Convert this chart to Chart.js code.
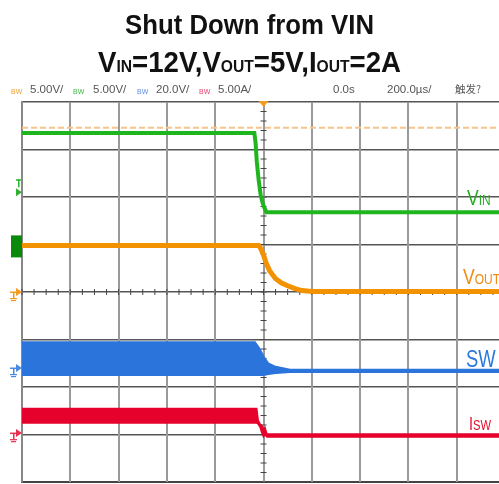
<!DOCTYPE html>
<html>
<head>
<meta charset="utf-8">
<script src="https://cdn.jsdelivr.net/npm/chart.js@4.4.1/dist/chart.umd.min.js"></script>
<style>
body{margin:0;background:#fff;width:499px;height:484px;overflow:hidden;position:relative;font-family:"Liberation Sans",Arial,sans-serif}
#c{position:absolute;left:0;top:0}
.t{position:absolute;line-height:1;white-space:nowrap}
.title{left:0;width:499px;text-align:center;font-weight:bold;color:#111;transform:scaleX(0.92)}
.st{font-family:"Liberation Sans Narrow","Liberation Sans",sans-serif;font-size:11.5px;color:#555}
.bw{font-family:"Liberation Sans",sans-serif;font-size:7px}
.lab{font-family:"Liberation Sans",sans-serif;transform:scaleX(0.8);transform-origin:0 0}
</style>
</head>
<body>
<canvas id="c" width="499" height="484"></canvas>

<div class="t title" style="top:11px;font-size:28px">Shut Down from VIN</div>
<div class="t title" style="top:47px;font-size:30px">V<span style="font-size:17px">IN</span>=12V,V<span style="font-size:17px">OUT</span>=5V,I<span style="font-size:17px">OUT</span>=2A</div>

<div class="t bw" style="left:11px;top:88px;color:#f0a030">BW</div>
<div class="t st" style="left:30px;top:84px">5.00V/</div>
<div class="t bw" style="left:73px;top:88px;color:#40b840">BW</div>
<div class="t st" style="left:93px;top:84px">5.00V/</div>
<div class="t bw" style="left:137px;top:88px;color:#5b8fe0">BW</div>
<div class="t st" style="left:156px;top:84px">20.0V/</div>
<div class="t bw" style="left:199px;top:88px;color:#e84070">BW</div>
<div class="t st" style="left:218px;top:84px">5.00A/</div>
<div class="t st" style="left:333px;top:84px">0.0s</div>
<div class="t st" style="left:387px;top:84px">200.0µs/</div>
<div class="t st" style="left:455px;top:84px;font-family:'Noto Sans CJK SC';font-size:10.5px">触发?</div>

<div class="t lab" style="left:467px;top:187px;font-size:22px;color:#22b022">V<span style="font-size:15px">IN</span></div>
<div class="t lab" style="left:463px;top:266px;font-size:22px;color:#f08a10">V<span style="font-size:15px">OUT</span></div>
<div class="t lab" style="left:466px;top:348px;font-size:23px;color:#2a78e0">SW</div>
<div class="t lab" style="left:469px;top:415px;font-size:18px;color:#e0102a">I<span style="font-size:14px">SW</span></div>

<script>
// time in us (200us/div, trigger at 0), values in screen divisions
var trigLevelT = [-1000, 975];
var trigLevelY = [3.46, 3.46];

var vinT = [-1000, -38, -33, -28, -20, -12, -5, 3, 12, 975];
var vinY = [3.35, 3.35, 3.15, 2.75, 2.35, 2.05, 1.9, 1.78, 1.68, 1.68];

var voutT = [-1000, -20, -10, 0, 10, 25, 50, 75, 100, 130, 160, 200, 975];
var voutY = [0.98, 0.98, 0.9, 0.78, 0.62, 0.45, 0.28, 0.19, 0.13, 0.07, 0.03, 0.01, 0.01];

var swT = [-1000, -35, -15, 0, 20, 50, 80, 110, 975];
var swTop = [-1.05, -1.05, -1.2, -1.35, -1.5, -1.57, -1.6, -1.63, -1.63];
var swBot = [-1.75, -1.75, -1.75, -1.75, -1.73, -1.71, -1.7, -1.69, -1.69];

var iswT = [-1000, -28, -22, -14, -8, 0, 6, 14, 975];
var iswTop = [-2.45, -2.45, -2.7, -2.78, -2.8, -2.88, -2.85, -2.99, -2.99];
var iswBot = [-2.76, -2.76, -2.78, -2.85, -2.95, -3.05, -3.0, -3.05, -3.05];

// channel reference markers on the left edge
var markY = [0.96, 0.0, -1.6, -2.97];
var markColors = ['#0a8a0a', '#f39a20', '#4a8ae0', '#e83050'];

function pts(t, v) {
    return t.map(function (x, i) { return {x: x, y: v[i]}; });
}

function trace(label, t, v, color, width, extra) {
    var ds = {
        label: label,
        data: pts(t, v),
        borderColor: color,
        borderWidth: width,
        pointRadius: 0,
        tension: 0,
        fill: false
    };
    for (var k in extra) ds[k] = extra[k];
    return ds;
}

var scopeDeco = {
    id: 'scopeDeco',
    beforeDatasetsDraw: function (chart) {
        var ctx = chart.ctx, x = chart.scales.x, y = chart.scales.y;
        var a = chart.chartArea;
        var cx = x.getPixelForValue(0), cy = y.getPixelForValue(0);
        ctx.save();
        // vertical divisions
        ctx.strokeStyle = '#9a9a9a';
        ctx.lineWidth = 2;
        ctx.beginPath();
        for (var d = -800; d <= 800; d += 200) {
            var gx = Math.round(x.getPixelForValue(d));
            ctx.moveTo(gx, a.top); ctx.lineTo(gx, a.bottom);
        }
        ctx.stroke();
        ctx.strokeStyle = '#444';
        ctx.lineWidth = 1;
        ctx.beginPath();
        for (var v = -1000; v <= 975; v += 50) {
            var px = x.getPixelForValue(v);
            ctx.moveTo(px, cy - 3); ctx.lineTo(px, cy + 3);
        }
        for (var w = -4; w <= 4.001; w += 0.2) {
            var py = y.getPixelForValue(w);
            ctx.moveTo(cx - 3, py); ctx.lineTo(cx + 3, py);
        }
        ctx.stroke();
        ctx.restore();
    },
    afterDraw: function (chart) {
        var ctx = chart.ctx, x = chart.scales.x, y = chart.scales.y;
        var a = chart.chartArea;
        ctx.save();
        // trigger position marker
        var tx = x.getPixelForValue(0);
        ctx.fillStyle = '#f39a20';
        ctx.beginPath();
        ctx.moveTo(tx - 5, a.top - 1); ctx.lineTo(tx + 5, a.top - 1); ctx.lineTo(tx, a.top + 5);
        ctx.fill();
        // trigger level marker
        var ty = y.getPixelForValue(2.1);
        ctx.fillStyle = '#30b030';
        ctx.beginPath();
        ctx.moveTo(a.left - 6, ty - 4); ctx.lineTo(a.left, ty); ctx.lineTo(a.left - 6, ty + 4);
        ctx.fill();
        ctx.fillRect(a.left - 6, ty - 13, 5, 1.5);
        ctx.fillRect(a.left - 4, ty - 13, 1.5, 8);
        markY.forEach(function (m, i) {
            var py = y.getPixelForValue(m);
            ctx.fillStyle = markColors[i];
            if (i === 0) {
                ctx.fillRect(a.left - 11, py - 11, 11, 22);
            } else {
                ctx.beginPath();
                ctx.moveTo(a.left - 6, py - 4); ctx.lineTo(a.left, py); ctx.lineTo(a.left - 6, py + 4);
                ctx.fill();
                ctx.fillRect(a.left - 12, py - 0.5, 7, 1.5);
                ctx.fillRect(a.left - 9, py, 1.5, 6);
                ctx.fillRect(a.left - 12, py + 6, 7, 1.2);
                ctx.fillRect(a.left - 11, py + 8, 5, 1.2);
            }
        });
        ctx.restore();
    }
};

var ctx = document.getElementById('c').getContext('2d');
var chart = new Chart(ctx, {
    type: 'line',
    data: {
        datasets: [
            trace('VIN', vinT, vinY, '#1fb51f', 4),
            trace('trig', trigLevelT, trigLevelY, '#f6c48c', 2, {borderDash: [6, 3]}),
            trace('VOUT', voutT, voutY, '#f39200', 5),
            trace('SW top', swT, swTop, '#2b74dc', 1.5),
            trace('SW bot', swT, swBot, '#2b74dc', 1.5, {fill: '-1', backgroundColor: '#2b74dc'}),
            trace('ISW top', iswT, iswTop, '#e6002c', 1.5),
            trace('ISW bot', iswT, iswBot, '#e6002c', 1.5, {fill: '-1', backgroundColor: '#e6002c'})
        ]
    },
    options: {
        responsive: false,
        animation: false,
        layout: {padding: {left: 22, top: 102, right: 0, bottom: 2}},
        plugins: {legend: {display: false}, tooltip: {enabled: false}},
        scales: {
            x: {
                type: 'linear', min: -1000, max: 975,
                ticks: {display: false, stepSize: 200},
                afterFit: function (s) { s.height = 0; },
                grid: {display: false},
                border: {color: '#444', width: 2}
            },
            y: {
                min: -4, max: 4,
                ticks: {display: false, stepSize: 1},
                afterFit: function (s) { s.width = 0; },
                grid: {color: '#555', lineWidth: 1.5, drawTicks: false},
                border: {color: '#888', width: 2}
            }
        }
    },
    plugins: [scopeDeco]
});
</script>
</body>
</html>
